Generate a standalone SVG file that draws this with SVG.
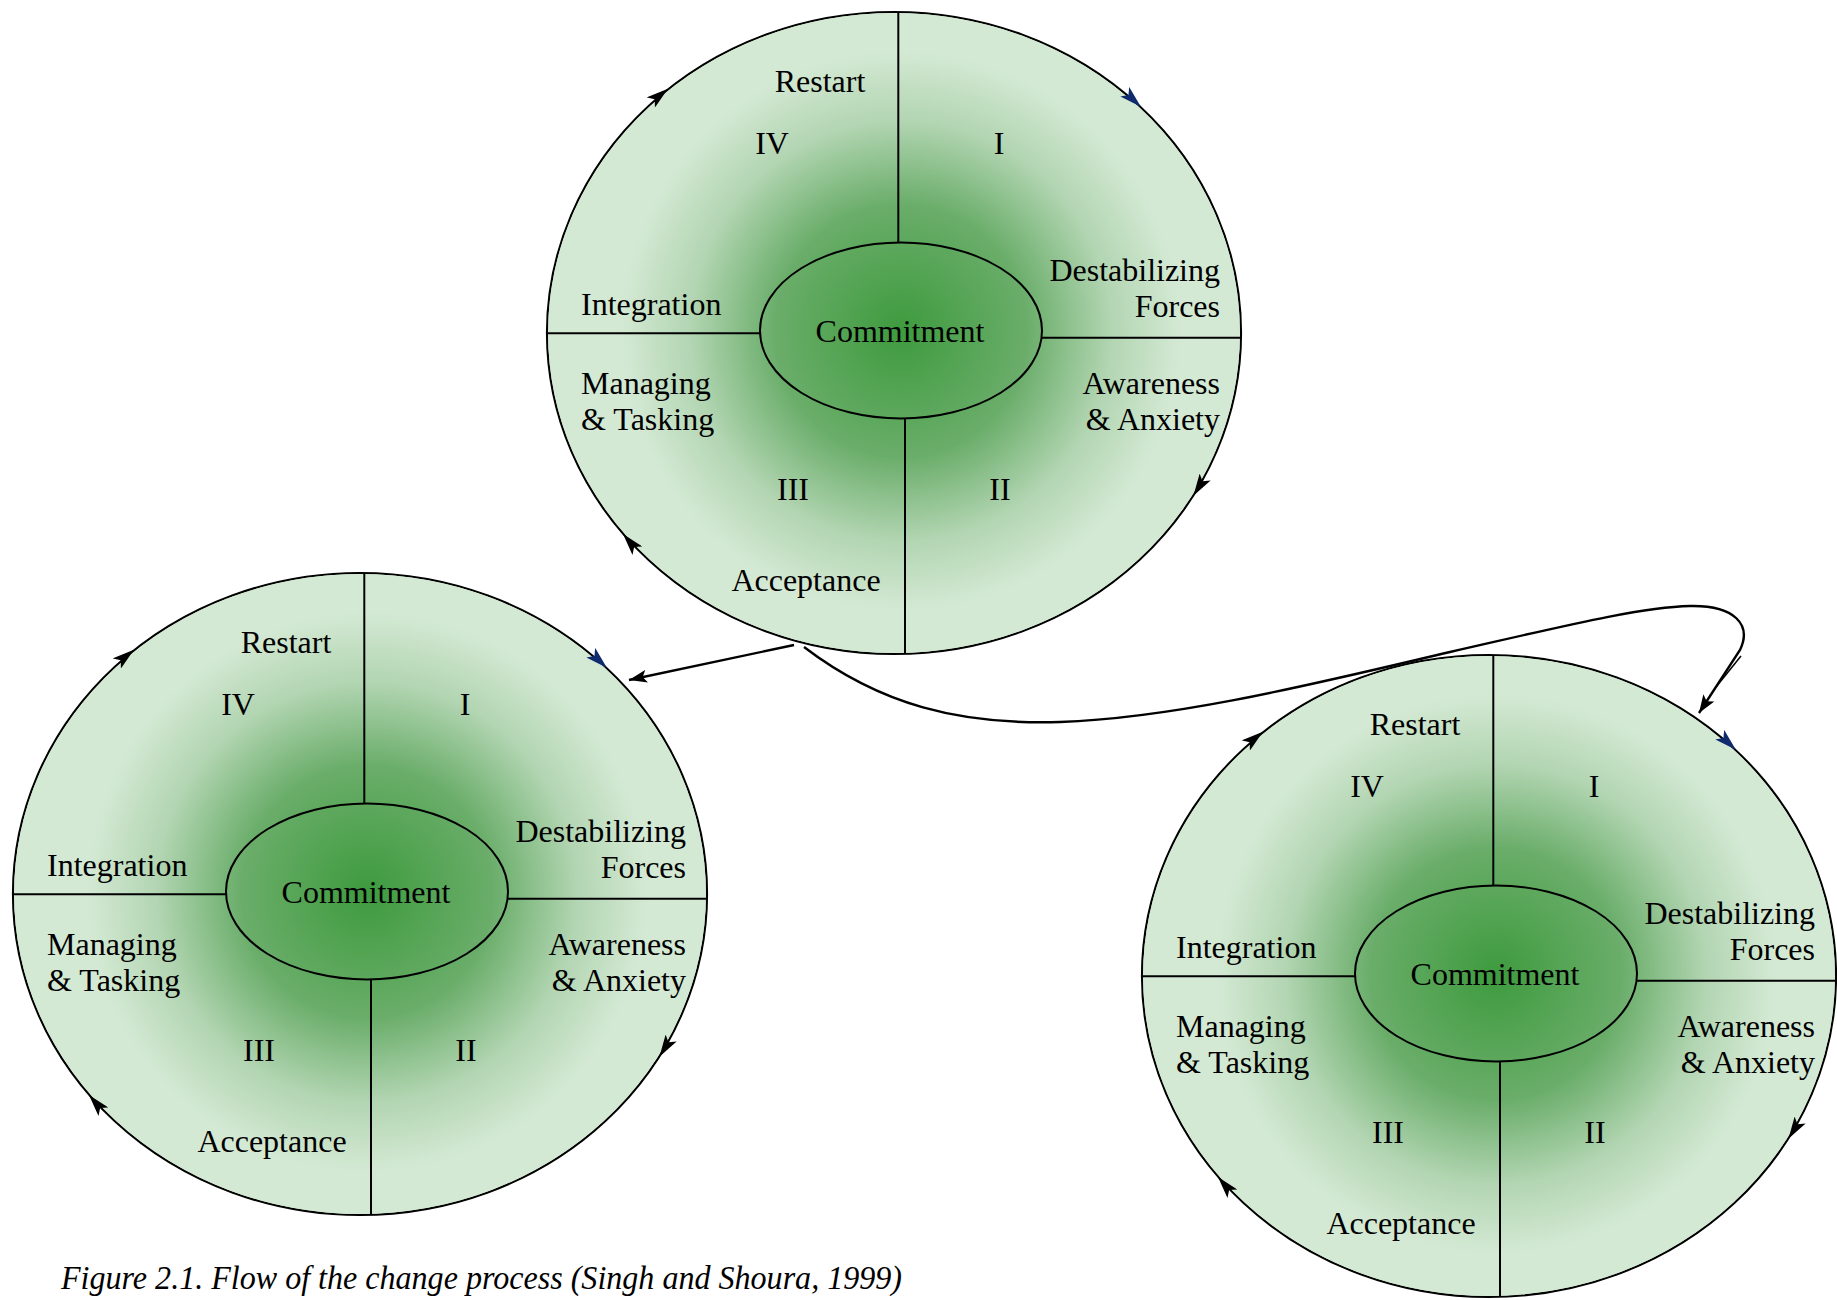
<svg xmlns="http://www.w3.org/2000/svg" width="1837" height="1300" viewBox="0 0 1837 1300">
<defs>
<style>
.outer{fill:#d4e9d4;stroke:#000;stroke-width:2.2}
.inner{fill:url(#g);stroke:#000;stroke-width:2}
.div{stroke:#000;stroke-width:2;fill:none}
.arc{fill:none;stroke:none}
.t{font-family:"Liberation Serif","Times New Roman",serif;font-size:32px;fill:#000}
.m{text-anchor:middle}
.e{text-anchor:end}
.conn{fill:none;stroke:#000;stroke-width:2.4}
.cap{font-family:"Liberation Serif","Times New Roman",serif;font-size:33px;font-style:italic;fill:#000}
</style>
<radialGradient id="g" gradientUnits="userSpaceOnUse" cx="7" cy="-2" r="280">
<stop offset="0" stop-color="#3e9b3e"/>
<stop offset="0.45" stop-color="#6aad6a"/>
<stop offset="0.75" stop-color="#b2d5b2"/>
<stop offset="1" stop-color="#d4e9d4"/>
</radialGradient>
<marker id="ah" viewBox="0 0 22 13" refX="20" refY="6.5" markerWidth="22" markerHeight="13" markerUnits="userSpaceOnUse" orient="auto"><path d="M0,0 L22,6.5 L0,13 L5,6.5 z" fill="#000"/></marker>
<marker id="ahb" viewBox="0 0 22 13" refX="20" refY="6.5" markerWidth="22" markerHeight="13" markerUnits="userSpaceOnUse" orient="auto"><path d="M0,0 L22,6.5 L0,13 L5,6.5 z" fill="#102a6e"/></marker>
<marker id="ahc" viewBox="0 0 18 13" refX="18" refY="6.5" markerWidth="18" markerHeight="13" markerUnits="userSpaceOnUse" orient="auto"><path d="M0,0 L18,6.5 L0,13 L4,6.5 z" fill="#000"/></marker>
</defs>

<g id="cycle-top" transform="translate(894,333)">
<ellipse class="outer" cx="0" cy="0" rx="347" ry="321"/>
<ellipse cx="0" cy="0" rx="346" ry="320" fill="url(#g)"/>
<line class="div" x1="4.3" y1="-321" x2="4.3" y2="-90.5"/>
<line class="div" x1="11" y1="85" x2="11" y2="321"/>
<line class="div" x1="-347" y1="0.3" x2="-134" y2="0.3"/>
<line class="div" x1="148" y1="4.7" x2="347" y2="4.7"/>
<ellipse class="inner" cx="7" cy="-2.5" rx="141" ry="88"/>
<path class="arc" d="M-232.3,-239.3 L-227.6,-243.1" marker-end="url(#ah)"/>
<path class="arc" d="M241,-231.8 L245.4,-227.7" marker-end="url(#ahb)"/>
<path class="arc" d="M303.7,155.9 L300.5,161" marker-end="url(#ah)"/>
<path class="arc" d="M-265.8,207.1 L-269.7,202.6" marker-end="url(#ah)"/>
<text class="t m" x="-74" y="-241">Restart</text>
<text class="t m" x="-122" y="-179">IV</text>
<text class="t m" x="105" y="-179">I</text>
<text class="t e" x="326" y="-52">Destabilizing</text>
<text class="t e" x="326" y="-16">Forces</text>
<text class="t" x="-313" y="-18">Integration</text>
<text class="t m" x="6" y="9">Commitment</text>
<text class="t" x="-313" y="61">Managing</text>
<text class="t" x="-313" y="97">&amp; Tasking</text>
<text class="t e" x="326" y="61">Awareness</text>
<text class="t e" x="326" y="97">&amp; Anxiety</text>
<text class="t m" x="-101" y="167">III</text>
<text class="t m" x="106" y="167">II</text>
<text class="t m" x="-88" y="258">Acceptance</text>
</g>

<g id="cycle-left" transform="translate(360,894)">
<ellipse class="outer" cx="0" cy="0" rx="347" ry="321"/>
<ellipse cx="0" cy="0" rx="346" ry="320" fill="url(#g)"/>
<line class="div" x1="4.3" y1="-321" x2="4.3" y2="-90.5"/>
<line class="div" x1="11" y1="85" x2="11" y2="321"/>
<line class="div" x1="-347" y1="0.3" x2="-134" y2="0.3"/>
<line class="div" x1="148" y1="4.7" x2="347" y2="4.7"/>
<ellipse class="inner" cx="7" cy="-2.5" rx="141" ry="88"/>
<path class="arc" d="M-232.3,-239.3 L-227.6,-243.1" marker-end="url(#ah)"/>
<path class="arc" d="M241,-231.8 L245.4,-227.7" marker-end="url(#ahb)"/>
<path class="arc" d="M303.7,155.9 L300.5,161" marker-end="url(#ah)"/>
<path class="arc" d="M-265.8,207.1 L-269.7,202.6" marker-end="url(#ah)"/>
<text class="t m" x="-74" y="-241">Restart</text>
<text class="t m" x="-122" y="-179">IV</text>
<text class="t m" x="105" y="-179">I</text>
<text class="t e" x="326" y="-52">Destabilizing</text>
<text class="t e" x="326" y="-16">Forces</text>
<text class="t" x="-313" y="-18">Integration</text>
<text class="t m" x="6" y="9">Commitment</text>
<text class="t" x="-313" y="61">Managing</text>
<text class="t" x="-313" y="97">&amp; Tasking</text>
<text class="t e" x="326" y="61">Awareness</text>
<text class="t e" x="326" y="97">&amp; Anxiety</text>
<text class="t m" x="-101" y="167">III</text>
<text class="t m" x="106" y="167">II</text>
<text class="t m" x="-88" y="258">Acceptance</text>
</g>

<g id="cycle-right" transform="translate(1489,976)">
<ellipse class="outer" cx="0" cy="0" rx="347" ry="321"/>
<ellipse cx="0" cy="0" rx="346" ry="320" fill="url(#g)"/>
<line class="div" x1="4.3" y1="-321" x2="4.3" y2="-90.5"/>
<line class="div" x1="11" y1="85" x2="11" y2="321"/>
<line class="div" x1="-347" y1="0.3" x2="-134" y2="0.3"/>
<line class="div" x1="148" y1="4.7" x2="347" y2="4.7"/>
<ellipse class="inner" cx="7" cy="-2.5" rx="141" ry="88"/>
<path class="arc" d="M-232.3,-239.3 L-227.6,-243.1" marker-end="url(#ah)"/>
<path class="arc" d="M241,-231.8 L245.4,-227.7" marker-end="url(#ahb)"/>
<path class="arc" d="M303.7,155.9 L300.5,161" marker-end="url(#ah)"/>
<path class="arc" d="M-265.8,207.1 L-269.7,202.6" marker-end="url(#ah)"/>
<text class="t m" x="-74" y="-241">Restart</text>
<text class="t m" x="-122" y="-179">IV</text>
<text class="t m" x="105" y="-179">I</text>
<text class="t e" x="326" y="-52">Destabilizing</text>
<text class="t e" x="326" y="-16">Forces</text>
<text class="t" x="-313" y="-18">Integration</text>
<text class="t m" x="6" y="9">Commitment</text>
<text class="t" x="-313" y="61">Managing</text>
<text class="t" x="-313" y="97">&amp; Tasking</text>
<text class="t e" x="326" y="61">Awareness</text>
<text class="t e" x="326" y="97">&amp; Anxiety</text>
<text class="t m" x="-101" y="167">III</text>
<text class="t m" x="106" y="167">II</text>
<text class="t m" x="-88" y="258">Acceptance</text>
</g>

<g id="connectors">
<path class="conn" d="M794,645 L629,680" marker-end="url(#ahc)"/>
<path class="conn" d="M804,647 C880,705 960,725 1060,722 C1180,718 1330,680 1450,652 C1560,627 1640,607 1690,606 C1735,605 1752,625 1740,650 L1699,713" marker-end="url(#ahc)"/>
<path class="conn" style="stroke-width:1.5" d="M1741,656 L1716,687"/>
</g>

<text class="cap" x="61" y="1289" textLength="841" lengthAdjust="spacingAndGlyphs">Figure 2.1. Flow of the change process (Singh and Shoura, 1999)</text>
</svg>
